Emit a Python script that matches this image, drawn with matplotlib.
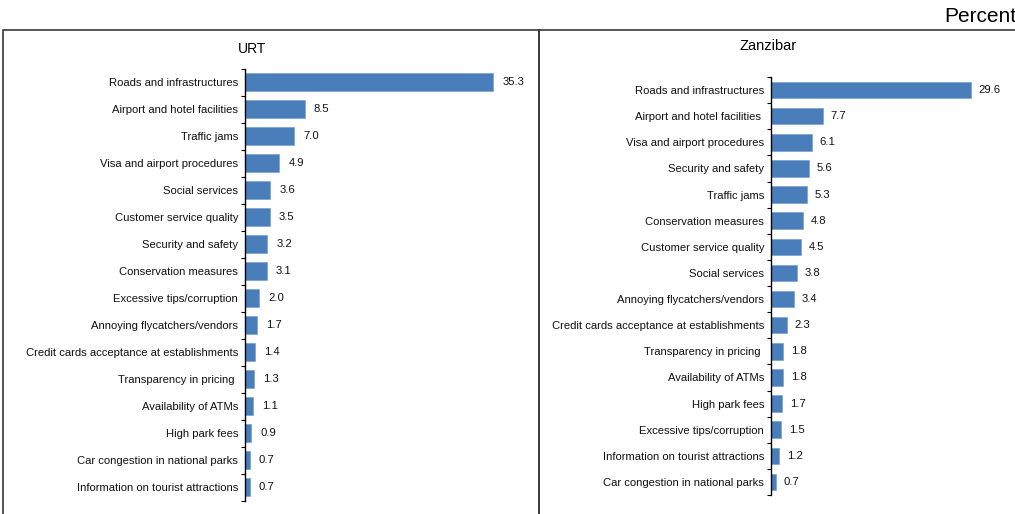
import numpy as np
import matplotlib
matplotlib.use("Agg")
from matplotlib import pyplot as plt
from matplotlib.patches import Rectangle

plt.rcParams['font.family'] = ['Liberation Sans', 'DejaVu Sans']

# URT data
urt_labels = ["Roads and infrastructures", "Airport and hotel facilities", "Traffic jams",
              "Visa and airport procedures", "Social services", "Customer service quality",
              "Security and safety", "Conservation measures", "Excessive tips/corruption",
              "Annoying flycatchers/vendors", "Credit cards acceptance at establishments",
              "Transparency in pricing ", "Availability of ATMs", "High park fees",
              "Car congestion in national parks", "Information on tourist attractions"]
urt_values = [35.3, 8.5, 7.0, 4.9, 3.6, 3.5, 3.2, 3.1, 2.0, 1.7, 1.4, 1.3, 1.1, 0.9, 0.7, 0.7]

# Zanzibar data
znz_labels = ["Roads and infrastructures", "Airport and hotel facilities ", "Visa and airport procedures",
              "Security and safety", "Traffic jams", "Conservation measures",
              "Customer service quality", "Social services", "Annoying flycatchers/vendors",
              "Credit cards acceptance at establishments", "Transparency in pricing ",
              "Availability of ATMs", "High park fees", "Excessive tips/corruption",
              "Information on tourist attractions", "Car congestion in national parks"]
znz_values = [29.6, 7.7, 6.1, 5.6, 5.3, 4.8, 4.5, 3.8, 3.4, 2.3, 1.8, 1.8, 1.7, 1.5, 1.2, 0.7]

W, H = 1015, 514
fig = plt.figure(figsize=(W / 100, H / 100), dpi=100)
bar_color = "#4a7ebb"
fs = 8.1


def px_axes(left, top, right, bottom):
    return fig.add_axes([left / W, 1 - bottom / H, (right - left) / W, (bottom - top) / H])


def draw_panel(ax, labels, values, xmax, title, title_xy, title_fs):
    pos = np.arange(len(labels))
    ax.barh(pos, values, height=0.63, color=bar_color, edgecolor="#7aa0d0", linewidth=0.5)
    for p, v in zip(pos, values):
        ax.text(v + xmax * 0.032, p, f"{v:.1f}", va="center", ha="left", fontsize=fs, color="#111111")
    ax.set_ylim(len(labels) - 0.5, -0.5)
    ax.set_xlim(0, xmax)
    ax.set_yticks(pos)
    ax.set_yticklabels(labels, fontsize=fs, color="#111111")
    ax.set_yticks(np.arange(len(labels) + 1) - 0.5, minor=True)
    ax.tick_params(axis="y", which="major", length=0, pad=5)
    ax.tick_params(axis="y", which="minor", length=3, width=0.8, direction="out")
    ax.set_xticks([])
    for s in ["top", "right", "bottom"]:
        ax.spines[s].set_visible(False)
    ax.spines["left"].set_linewidth(1.0)
    ax.patch.set_visible(False)
    fig.text(title_xy[0] / W, 1 - title_xy[1] / H, title, ha="center", va="center", fontsize=title_fs)


ax1 = px_axes(245, 68.5, 245 + 7.03 * 40, 500.5)
draw_panel(ax1, urt_labels, urt_values, 40, "URT", (252, 49), 10)

ax2 = px_axes(771, 77, 771 + 6.76 * 35, 495)
draw_panel(ax2, znz_labels, znz_values, 35, "Zanzibar", (768, 46), 10.5)

# panel frames
fig.add_artist(Rectangle((3 / W, -0.05), 536 / W, 1.05 - 30 / H, transform=fig.transFigure,
                         fill=False, edgecolor="#3a3a3a", linewidth=1.2))
fig.add_artist(Rectangle((539 / W, -0.05), 500 / W, 1.05 - 30 / H, transform=fig.transFigure,
                         fill=False, edgecolor="#3a3a3a", linewidth=1.2))

fig.text(1016 / W, 1 - 17 / H, "Percent", ha="right", va="center", fontsize=15)

fig.savefig("out.png", dpi=100)
